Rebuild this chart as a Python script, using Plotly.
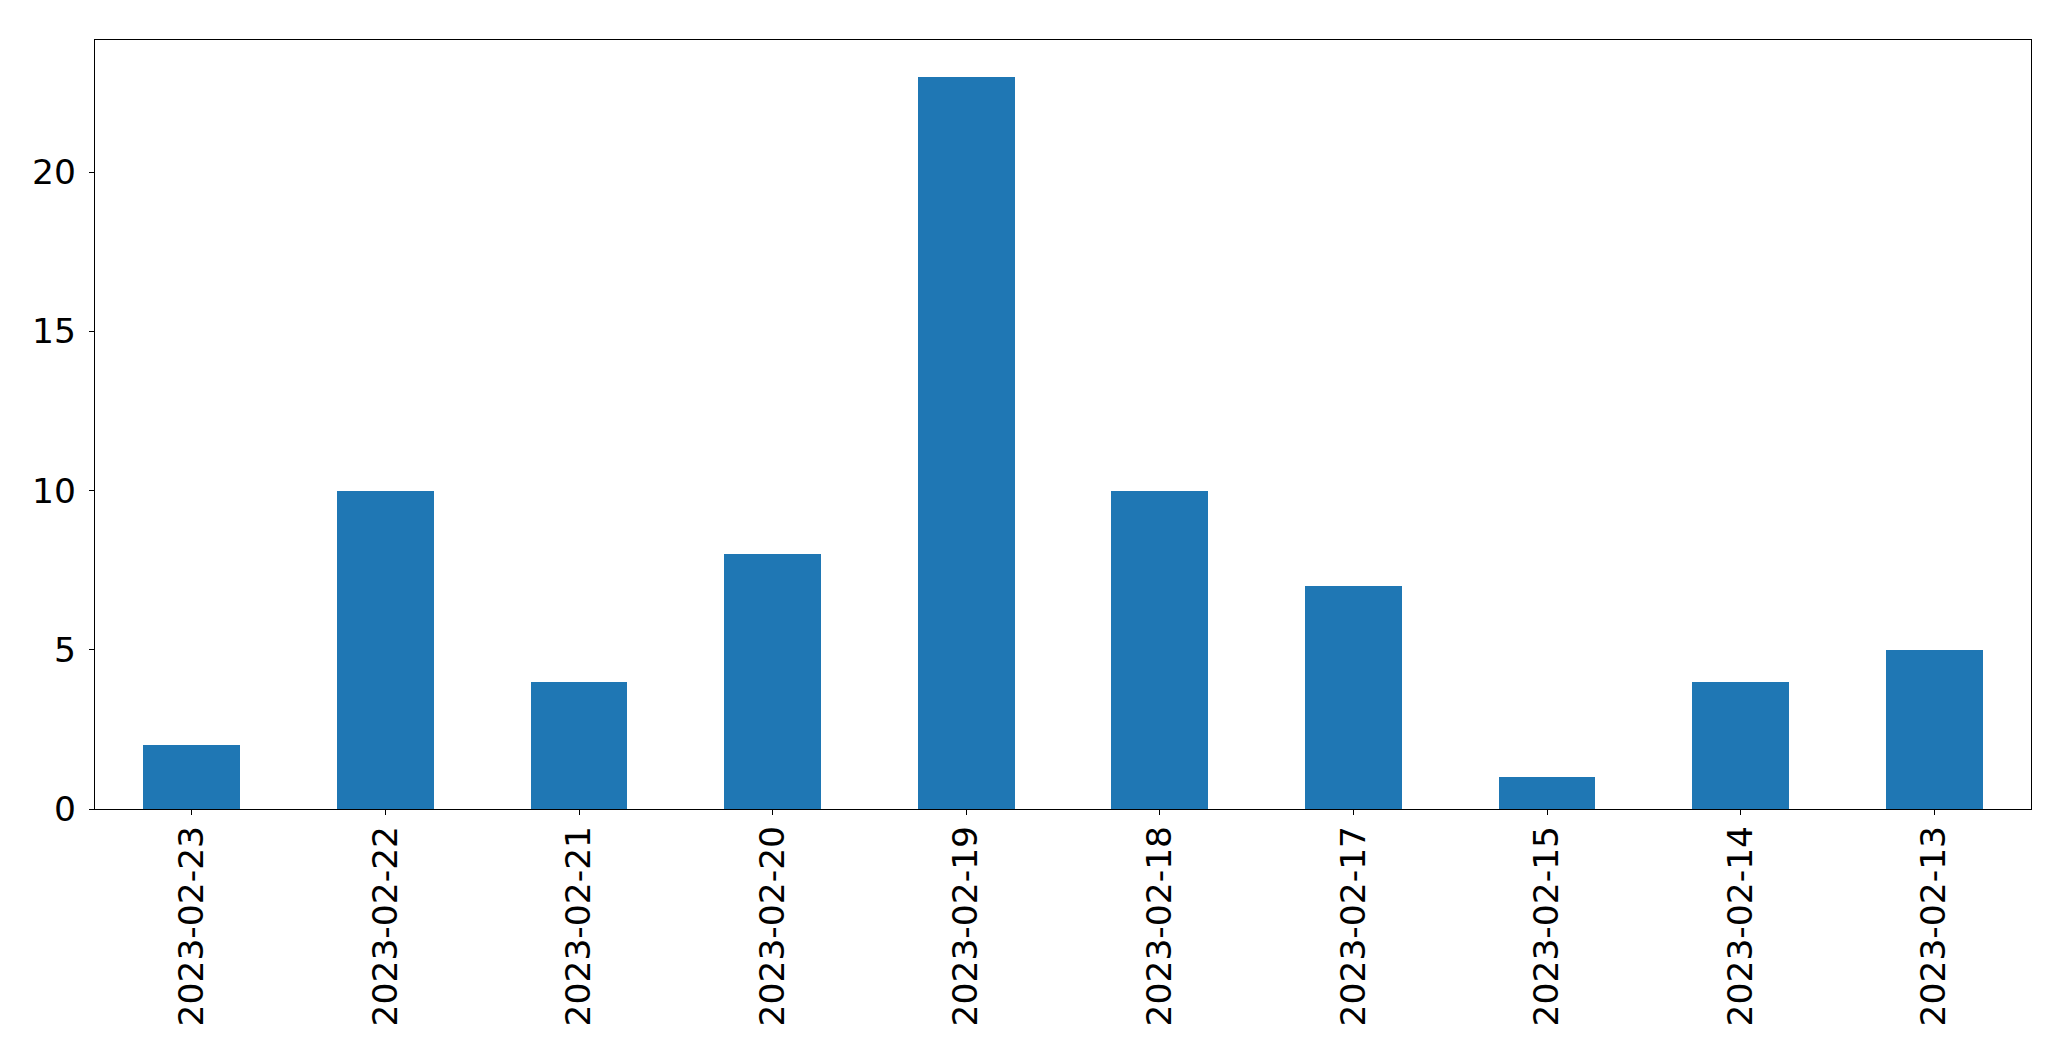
import plotly.graph_objects as go

dates = ["2023-02-23", "2023-02-22", "2023-02-21", "2023-02-20", "2023-02-19",
         "2023-02-18", "2023-02-17", "2023-02-15", "2023-02-14", "2023-02-13"]
counts = [2, 10, 4, 8, 23, 10, 7, 1, 4, 5]
y_ticks = [0, 5, 10, 15, 20]

fig = go.Figure(go.Bar(
    x=dates, y=counts, width=0.5,
    marker=dict(color="#1f77b4", line=dict(width=0)),
))

fig.update_layout(
    width=2063, height=1053,
    margin=dict(l=86.5, r=39.5, t=31.5, b=251.7, pad=0),
    paper_bgcolor="white", plot_bgcolor="white",
    font=dict(family="DejaVu Sans", size=34.5, color="black"),
    showlegend=False,
    bargap=0,
)
fig.update_xaxes(
    type="category", range=[-0.5, 9.5],
    showline=True, linecolor="black", linewidth=1.3, mirror=True,
    ticks="outside", ticklen=5, tickwidth=1.3, tickcolor="black",
    tickangle=-90, showgrid=False, zeroline=False,
    ticklabelstandoff=-3,
)
fig.update_yaxes(
    range=[0, 24.15], tickvals=y_ticks,
    showline=True, linecolor="black", linewidth=1.3, mirror=True,
    ticks="outside", ticklen=5, tickwidth=1.3, tickcolor="black",
    showgrid=False, zeroline=False,
    ticklabelstandoff=6,
)

fig.write_html("out.html")
